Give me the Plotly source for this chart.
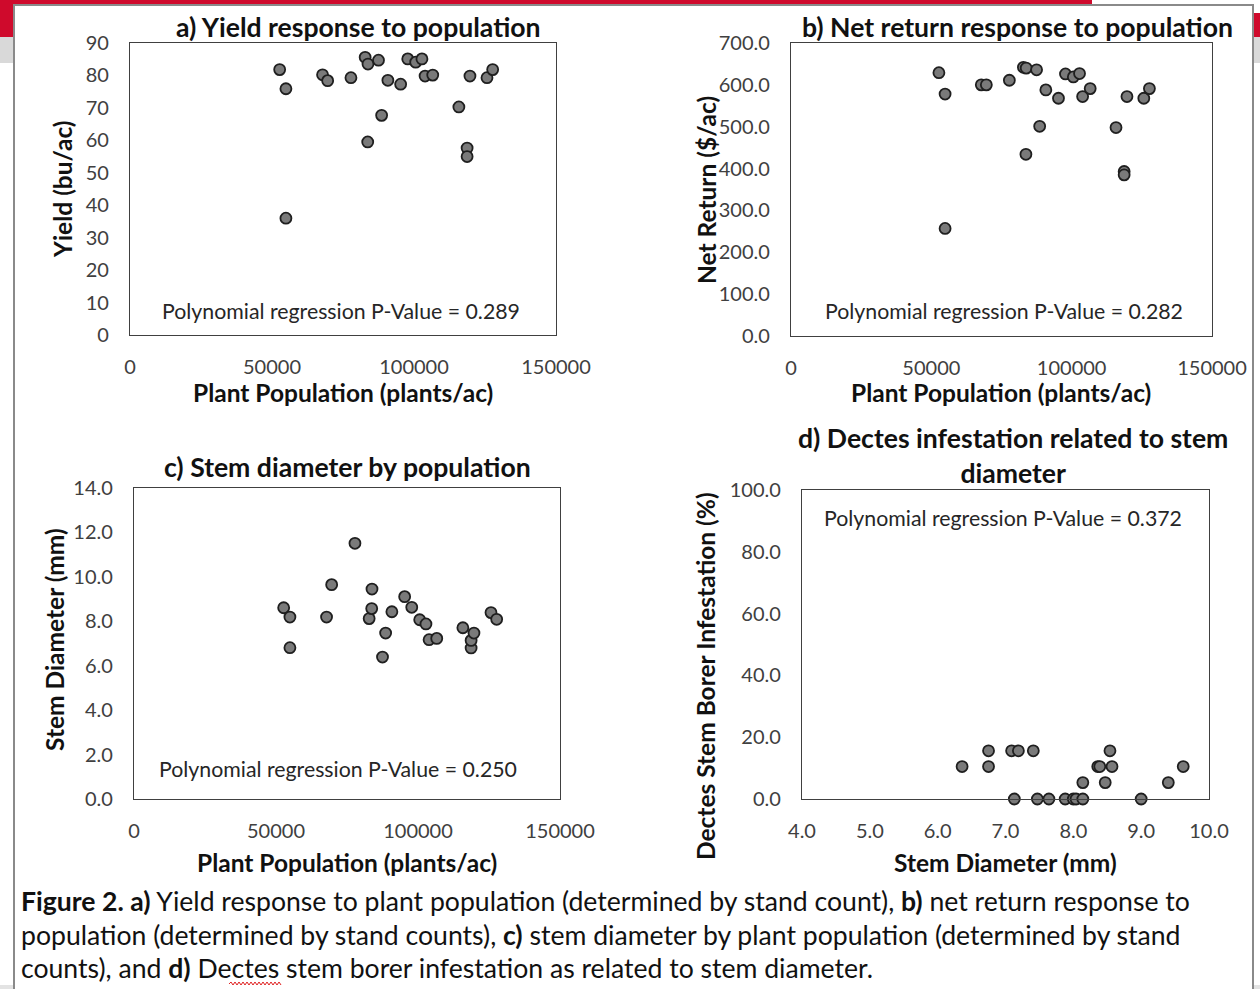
import plotly.graph_objects as go

# ---------------- data ----------------
population = [52700, 54900, 54900, 67800, 69600, 77800, 82800, 83800, 83700, 87500, 88600, 90800,
              95300, 97800, 100600, 102800, 103900, 106600, 115800, 118700, 118700, 119700, 125700, 127700]
yield_bu = [81.8, 75.9, 36.0, 80.2, 78.4, 79.3, 85.6, 83.5, 59.5, 84.7, 67.7, 78.5,
            77.3, 85.1, 84.1, 85.1, 79.8, 80.1, 70.3, 57.6, 55.0, 79.8, 79.3, 81.8]
net_return = [629, 578, 257, 600, 600, 611, 642, 640, 434, 636, 501, 588,
              568, 626, 619, 627, 572, 591, 498, 393, 385, 572, 568, 591]
stem_diam = [8.61, 8.19, 6.81, 8.19, 9.65, 11.51, 8.12, 9.45, 8.57, 6.39, 7.47, 8.43,
             9.11, 8.63, 8.07, 7.88, 7.17, 7.23, 7.71, 6.80, 7.14, 7.47, 8.39, 8.09]
diam_d = [6.75, 7.09, 7.19, 7.41, 8.54,
          6.36, 6.75, 8.36, 8.39, 8.57, 9.62,
          8.14, 8.47, 9.40,
          7.13, 7.47, 7.64, 7.88, 8.00, 8.04, 8.14, 9.00]
infest_d = [15.6, 15.6, 15.6, 15.6, 15.6,
            10.5, 10.5, 10.5, 10.5, 10.5, 10.5,
            5.3, 5.3, 5.3,
            0, 0, 0, 0, 0, 0, 0, 0]

titles = ["a) Yield response to population", "b) Net return response to population",
          "c) Stem diameter by population", "d) Dectes infestation related to stem<br>diameter"]
pvals = ["Polynomial regression P-Value = 0.289", "Polynomial regression P-Value = 0.282",
         "Polynomial regression P-Value = 0.250", "Polynomial regression P-Value = 0.372"]
caption = [
    "<b>Figure 2. a)</b> Yield response to plant population (determined by stand count), <b>b)</b> net return response to",
    "population (determined by stand counts), <b>c)</b> stem diameter by plant population (determined by stand",
    "counts), and <b>d)</b> Dectes stem borer infestation as related to stem diameter.",
]

W, H = 1260, 989
FONT = "Lato"


def px(x):
    return x / W


def py(y):
    return 1 - y / H


marker = dict(size=11, color="#7a7a7a", line=dict(color="#1f1f1f", width=1.8))

fig = go.Figure()
fig.add_trace(go.Scatter(x=population, y=yield_bu, mode="markers", marker=marker, xaxis="x", yaxis="y", cliponaxis=False))
fig.add_trace(go.Scatter(x=population, y=net_return, mode="markers", marker=marker, xaxis="x2", yaxis="y2", cliponaxis=False))
fig.add_trace(go.Scatter(x=population, y=stem_diam, mode="markers", marker=marker, xaxis="x3", yaxis="y3", cliponaxis=False))
fig.add_trace(go.Scatter(x=diam_d, y=infest_d, mode="markers", marker=marker, xaxis="x4", yaxis="y4", cliponaxis=False))

tickfont = dict(family=FONT, size=20, color="#404040")


def xax(dom, rng, dtick, fmt, anchor):
    return dict(domain=[px(dom[0]), px(dom[1])], range=rng, dtick=dtick, tick0=rng[0], tickformat=fmt,
                showgrid=False, zeroline=False, showline=True, linecolor="#404040", linewidth=1.3, mirror=True,
                ticks="outside", ticklen=14, tickcolor="rgba(0,0,0,0)", tickfont=tickfont, anchor=anchor,
                fixedrange=True, automargin=False)


def yax(dom, rng, dtick, fmt, anchor):
    return dict(domain=[py(dom[1]), py(dom[0])], range=rng, dtick=dtick, tick0=rng[0], tickformat=fmt,
                showgrid=False, zeroline=False, showline=True, linecolor="#404040", linewidth=1.3, mirror=True,
                ticks="outside", ticklen=16, tickcolor="rgba(0,0,0,0)", tickfont=tickfont, anchor=anchor,
                fixedrange=True, automargin=False)


layout = dict(
    width=W, height=H, margin=dict(l=0, r=0, t=0, b=0, pad=0, autoexpand=False),
    paper_bgcolor="white", plot_bgcolor="rgba(0,0,0,0)", showlegend=False,
    xaxis=xax((130, 556), [0, 150000], 50000, "d", "y"),
    yaxis=yax((43, 335), [0, 90], 10, "d", "x"),
    xaxis2=xax((791, 1212), [0, 150000], 50000, "d", "y2"),
    yaxis2=yax((43, 336), [0, 700], 100, ".1f", "x2"),
    xaxis3=xax((134, 560), [0, 150000], 50000, "d", "y3"),
    yaxis3=yax((488, 799), [0, 14], 2, ".1f", "x3"),
    xaxis4=xax((802, 1209), [4, 10], 1, ".1f", "y4"),
    yaxis4=yax((490, 799), [0, 100], 20, ".1f", "x4"),
)
fig.update_layout(**layout)

# spell-check squiggle under "Dectes" in the caption
zig = "M {:.5f},{:.5f}".format(px(229), py(984))
for i in range(1, 27):
    zig += " L {:.5f},{:.5f}".format(px(229 + 2 * i), py(982 if i % 2 else 985))

# background: header bar, gray strip, page
shapes = [
    dict(type="rect", x0=px(0), x1=px(1092), y0=py(0), y1=py(37), fillcolor="#cf0a2c", line_width=0),
    dict(type="rect", x0=px(0), x1=px(1260), y0=py(13), y1=py(37), fillcolor="#cf0a2c", line_width=0),
    dict(type="rect", x0=px(0), x1=px(1260), y0=py(37), y1=py(63), fillcolor="#d9d9d9", line_width=0),
    dict(type="rect", x0=px(0), x1=px(1260), y0=py(985), y1=py(989), fillcolor="#e3e3e3", line_width=0),
    dict(type="rect", x0=px(14), x1=px(1253), y0=py(5), y1=py(1010), fillcolor="white",
         line=dict(color="#8a8a8a", width=2)),
    dict(type="path", path=zig, line=dict(color="#e02020", width=1)),
]
for s in shapes:
    s.update(xref="paper", yref="paper", layer="below")
fig.update_layout(shapes=shapes)

ann = []
titlefont = dict(family=FONT, size=26.6, color="#111111")
for text, (x, y) in zip(titles, [(358, 27), (1017, 27), (347, 467), (1013, 455)]):
    ann.append(dict(text="<b>" + text + "</b>", x=px(x), y=py(y), font=titlefont))
pfont = dict(family=FONT, size=21.3, color="#262626")
for text, (x, y) in zip(pvals, [(341, 311), (1004, 311), (338, 769), (1003, 518)]):
    ann.append(dict(text=text, x=px(x), y=py(y), font=pfont))
axfont = dict(family=FONT, size=24.5, color="#111111")
ax_titles = [
    ("Plant Population (plants/ac)", 343, 392, 0),
    ("Yield (bu/ac)", 62, 189, -90),
    ("Plant Population (plants/ac)", 1001, 392, 0),
    ("Net Return ($/ac)", 706, 190, -90),
    ("Plant Population (plants/ac)", 347, 862, 0),
    ("Stem Diameter (mm)", 54, 640, -90),
    ("Stem Diameter (mm)", 1005, 862, 0),
    ("Dectes Stem Borer Infestation (%)", 705, 676, -90),
]
for text, x, y, ang in ax_titles:
    ann.append(dict(text="<b>" + text + "</b>", x=px(x), y=py(y), textangle=ang, font=axfont))
capfont = dict(family=FONT, size=26.6, color="#111111")
for text, y in zip(caption, [901, 935, 968]):
    ann.append(dict(text=text, x=px(19), y=py(y), xanchor="left", font=capfont))
for a in ann:
    a.update(xref="paper", yref="paper", showarrow=False)
    a.setdefault("xanchor", "center")
    a.setdefault("yanchor", "middle")
fig.update_layout(annotations=ann)

fig.write_html("out.html", config={"displayModeBar": False},
               post_script="document.body.style.margin='0';document.body.style.overflow='hidden';")
